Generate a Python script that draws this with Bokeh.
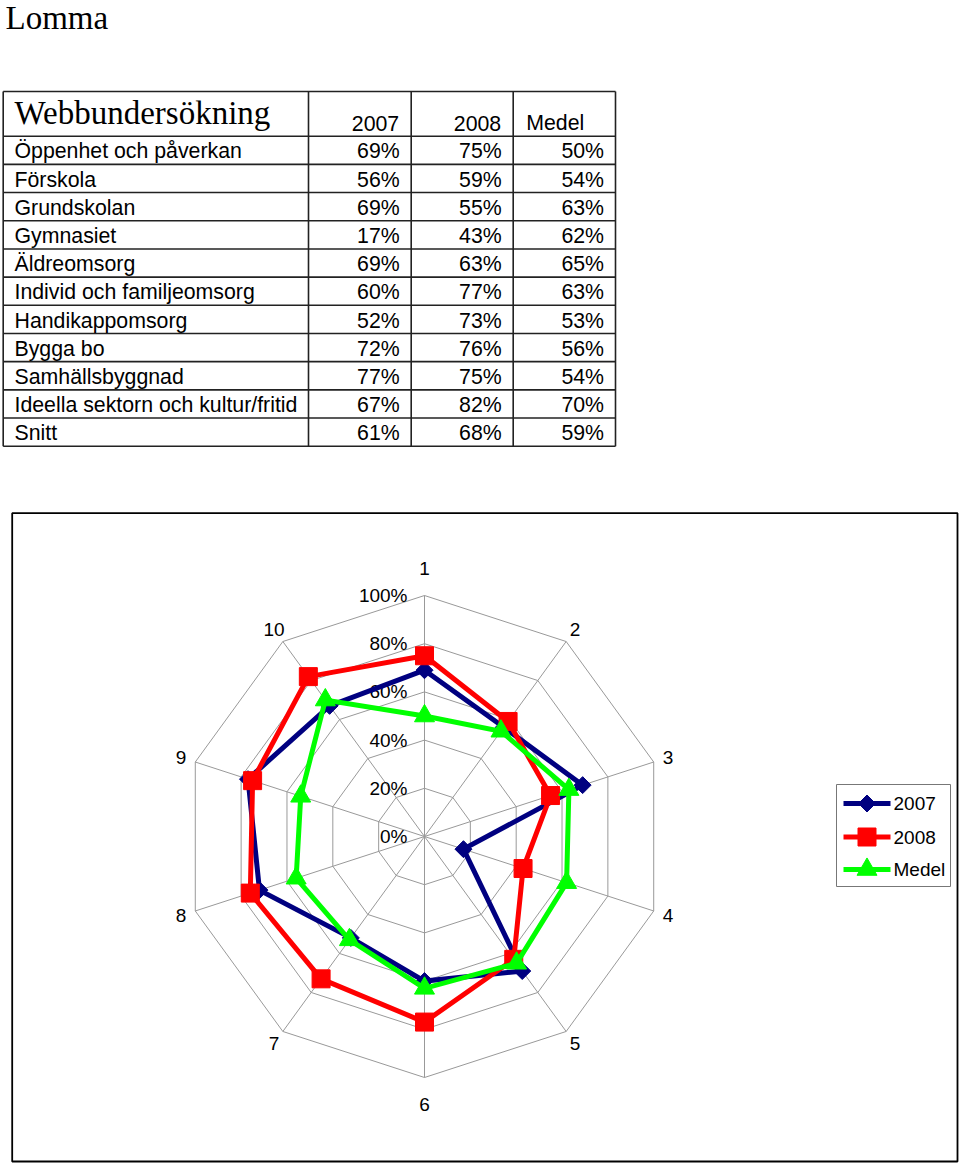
import numpy as np
from bokeh.plotting import figure
from bokeh.models import Range1d
from bokeh.core.properties import value
from bokeh.embed import file_html
from bokeh.resources import INLINE

# ---------------- data ----------------
page_title = "Lomma"
table_title = "Webbundersökning"
series_names = ["2007", "2008", "Medel"]
categories = ["Öppenhet och påverkan", "Förskola", "Grundskolan", "Gymnasiet",
              "Äldreomsorg", "Individ och familjeomsorg", "Handikappomsorg",
              "Bygga bo", "Samhällsbyggnad", "Ideella sektorn och kultur/fritid"]
v2007 = [69, 56, 69, 17, 69, 60, 52, 72, 77, 67]
v2008 = [75, 59, 55, 43, 63, 77, 73, 76, 75, 82]
medel = [50, 54, 63, 62, 65, 63, 53, 56, 54, 70]
snitt_label = "Snitt"
snitt = [61, 68, 59]
axis_labels = [str(i) for i in range(1, 11)]
ring_ticks = [0, 20, 40, 60, 80, 100]

SANS = value("Liberation Sans")
SERIF = value("Liberation Serif")
TFS = 21.3          # table font size (px)
SANS_MID = 0.35     # baseline -> visual middle offset (fraction of size)
SERIF_MID = 0.335

p = figure(width=960, height=1164, x_range=Range1d(0, 960), y_range=Range1d(1164, 0),
           x_axis_type=None, y_axis_type=None, output_backend="svg",
           toolbar_location=None, min_border=0)
p.grid.visible = False
p.outline_line_color = None
p.background_fill_color = "white"

# ---------------- page title ----------------
p.text(x=[5], y=[29 - 33 * SERIF_MID], text=[page_title], text_font=SERIF,
       text_font_size="33px", text_align="left", text_baseline="middle",
       text_color="black")

# ---------------- table ----------------
col_x = [2.7, 308, 410.7, 512.7, 615]
t_top, h_bot, t_bot = 91, 135.7, 445.7
n_rows = len(categories) + 1
row_h = (t_bot - h_bot) / n_rows
line_col = "#222222"
hy = [t_top, h_bot] + [h_bot + row_h * (i + 1) for i in range(n_rows)]
p.multi_line(xs=[[col_x[0], col_x[-1]] for _ in hy], ys=[[y, y] for y in hy],
             line_color=line_col, line_width=1.6)
p.multi_line(xs=[[x, x] for x in col_x], ys=[[t_top, t_bot] for _ in col_x],
             line_color=line_col, line_width=1.6)

p.text(x=[14], y=[124 - 33 * SERIF_MID], text=[table_title], text_font=SERIF,
       text_font_size="33px", text_align="left", text_baseline="middle",
       text_color="black")
hb = 130 - TFS * SANS_MID
p.text(x=[col_x[2] - 12, col_x[3] - 12], y=[hb, hb], text=series_names[:2],
       text_font=SANS, text_font_size=f"{TFS}px", text_align="right",
       text_baseline="middle", text_color="black")
p.text(x=[col_x[3] + 13], y=[hb], text=[series_names[2]],
       text_font=SANS, text_font_size=f"{TFS}px", text_align="left",
       text_baseline="middle", text_color="black")

row_labels = categories + [snitt_label]
cols = [v2007 + [snitt[0]], v2008 + [snitt[1]], medel + [snitt[2]]]
base = [h_bot + row_h * (i + 1) - 5.5 - TFS * SANS_MID for i in range(n_rows)]
p.text(x=[14] * n_rows, y=base, text=row_labels, text_font=SANS, text_font_size=f"{TFS}px",
       text_align="left", text_baseline="middle", text_color="black")
for j, vals in enumerate(cols):
    p.text(x=[col_x[j + 2] - 11.5] * n_rows, y=base, text=[f"{v}%" for v in vals],
           text_font=SANS, text_font_size=f"{TFS}px", text_align="right",
           text_baseline="middle", text_color="black")

# ---------------- chart box ----------------
p.quad(left=[11.7], right=[957], top=[512.7], bottom=[1161], fill_alpha=0,
       line_color="black", line_width=1.8)

# ---------------- radar ----------------
cx, cy, R = 424, 836, 241
n = len(categories)
ang = np.arange(n) * 2 * np.pi / n
sx, sy = np.sin(ang), np.cos(ang)

def pts(vals):
    v = np.asarray(vals, dtype=float) / 100.0
    return cx + R * v * sx, cy - R * v * sy

grid_col = "#999999"
rx, ry = [], []
for t in ring_ticks[1:]:
    x, y = pts([t] * n)
    rx.append(list(x) + [x[0]])
    ry.append(list(y) + [y[0]])
p.multi_line(xs=rx, ys=ry, line_color=grid_col, line_width=1)
ox, oy = pts([100] * n)
p.multi_line(xs=[[cx, a] for a in ox], ys=[[cy, b] for b in oy],
             line_color=grid_col, line_width=1)

# ring labels
p.text(x=[cx - 17] * len(ring_ticks), y=[cy - R * t / 100 for t in ring_ticks],
       text=[f"{t}%" for t in ring_ticks], text_font=SANS, text_font_size="19px",
       text_align="right", text_baseline="middle", text_color="black")

# category number labels
lr = np.array([256 + 12 * (abs(c) > 0.99) for c in sy])
p.text(x=cx + lr * sx, y=cy - lr * sy, text=axis_labels, text_font=SANS,
       text_font_size="19px", text_align="center", text_baseline="middle",
       text_color="black")

styles = [
    dict(color="#000080", marker="square", size=12, angle=np.pi / 4),
    dict(color="#FF0000", marker="square", size=18, angle=0.0),
    dict(color="#00FF00", marker="triangle", size=20, angle=0.0),
]
for vals, st in zip([v2007, v2008, medel], styles):
    x, y = pts(vals)
    p.line(x=list(x) + [x[0]], y=list(y) + [y[0]], line_color=st["color"], line_width=5,
           line_join="miter")
    p.scatter(x=x, y=y, marker=st["marker"], size=st["size"], angle=st["angle"],
              fill_color=st["color"], line_color=st["color"])

# ---------------- legend ----------------
p.quad(left=[836], right=[950], top=[784], bottom=[886], fill_color="white",
       line_color="#777777", line_width=1)
ly = [803, 836.5, 869]
for yy, name, st in zip(ly, series_names, styles):
    p.line(x=[843, 890], y=[yy, yy], line_color=st["color"], line_width=5)
    p.scatter(x=[866.5], y=[yy], marker=st["marker"], size=st["size"], angle=st["angle"],
              fill_color=st["color"], line_color=st["color"])
p.text(x=[893] * 3, y=ly, text=series_names, text_font=SANS, text_font_size="19px",
       text_align="left", text_baseline="middle", text_color="black")

open("out.html", "w").write(file_html(p, INLINE))
